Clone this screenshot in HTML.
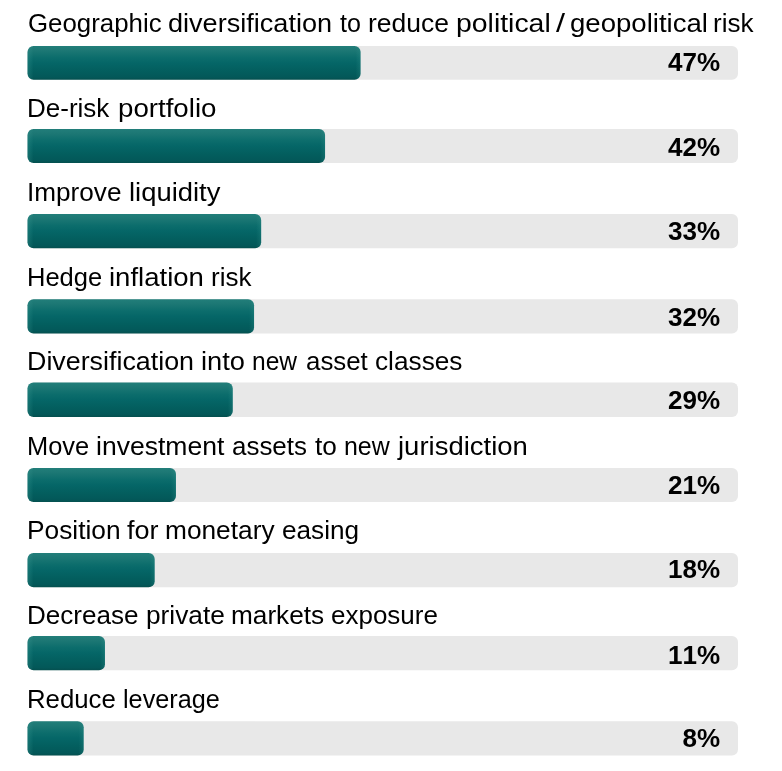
<!DOCTYPE html>
<html><head><meta charset="utf-8"><title>Chart</title>
<style>
html,body{margin:0;padding:0;background:#fff;}
body{width:782px;height:771px;position:relative;overflow:hidden;font-family:"Liberation Sans",sans-serif;color:#000;}
.w{position:absolute;font-size:25.0px;line-height:28px;height:28px;white-space:nowrap;transform-origin:0 0;color:#000;}
#t{position:absolute;left:0;top:0;width:782px;height:771px;will-change:transform;}
.val{position:absolute;left:600px;width:120.2px;text-align:right;height:30px;line-height:30px;font-weight:bold;font-size:25.4px;white-space:nowrap;color:#000;font-kerning:none;transform:scaleX(1.025);transform-origin:100% 50%;}
</style></head><body>

<svg width="782" height="771" viewBox="0 0 782 771" style="position:absolute;left:0;top:0">
<defs><linearGradient id="g" x1="0" y1="0" x2="0" y2="1"><stop offset="0" stop-color="#227e7a"/><stop offset="0.14" stop-color="#1c7774"/><stop offset="0.34" stop-color="#0c6d6c"/><stop offset="0.5" stop-color="#056667"/><stop offset="0.74" stop-color="#035e5e"/><stop offset="0.92" stop-color="#035859"/><stop offset="1" stop-color="#05504f"/></linearGradient>
<linearGradient id="h0" x1="0" y1="0" x2="1" y2="0"><stop offset="0" stop-color="#3c9a94" stop-opacity="0.32"/><stop offset="0.0180" stop-color="#3c9a94" stop-opacity="0"/><stop offset="0.9850" stop-color="#3c9a94" stop-opacity="0"/><stop offset="1" stop-color="#3c9a94" stop-opacity="0.24"/></linearGradient>
<linearGradient id="h1" x1="0" y1="0" x2="1" y2="0"><stop offset="0" stop-color="#3c9a94" stop-opacity="0.32"/><stop offset="0.0202" stop-color="#3c9a94" stop-opacity="0"/><stop offset="0.9832" stop-color="#3c9a94" stop-opacity="0"/><stop offset="1" stop-color="#3c9a94" stop-opacity="0.24"/></linearGradient>
<linearGradient id="h2" x1="0" y1="0" x2="1" y2="0"><stop offset="0" stop-color="#3c9a94" stop-opacity="0.32"/><stop offset="0.0257" stop-color="#3c9a94" stop-opacity="0"/><stop offset="0.9786" stop-color="#3c9a94" stop-opacity="0"/><stop offset="1" stop-color="#3c9a94" stop-opacity="0.24"/></linearGradient>
<linearGradient id="h3" x1="0" y1="0" x2="1" y2="0"><stop offset="0" stop-color="#3c9a94" stop-opacity="0.32"/><stop offset="0.0265" stop-color="#3c9a94" stop-opacity="0"/><stop offset="0.9779" stop-color="#3c9a94" stop-opacity="0"/><stop offset="1" stop-color="#3c9a94" stop-opacity="0.24"/></linearGradient>
<linearGradient id="h4" x1="0" y1="0" x2="1" y2="0"><stop offset="0" stop-color="#3c9a94" stop-opacity="0.32"/><stop offset="0.0292" stop-color="#3c9a94" stop-opacity="0"/><stop offset="0.9756" stop-color="#3c9a94" stop-opacity="0"/><stop offset="1" stop-color="#3c9a94" stop-opacity="0.24"/></linearGradient>
<linearGradient id="h5" x1="0" y1="0" x2="1" y2="0"><stop offset="0" stop-color="#3c9a94" stop-opacity="0.32"/><stop offset="0.0404" stop-color="#3c9a94" stop-opacity="0"/><stop offset="0.9663" stop-color="#3c9a94" stop-opacity="0"/><stop offset="1" stop-color="#3c9a94" stop-opacity="0.24"/></linearGradient>
<linearGradient id="h6" x1="0" y1="0" x2="1" y2="0"><stop offset="0" stop-color="#3c9a94" stop-opacity="0.32"/><stop offset="0.0472" stop-color="#3c9a94" stop-opacity="0"/><stop offset="0.9607" stop-color="#3c9a94" stop-opacity="0"/><stop offset="1" stop-color="#3c9a94" stop-opacity="0.24"/></linearGradient>
<linearGradient id="h7" x1="0" y1="0" x2="1" y2="0"><stop offset="0" stop-color="#3c9a94" stop-opacity="0.32"/><stop offset="0.0775" stop-color="#3c9a94" stop-opacity="0"/><stop offset="0.9354" stop-color="#3c9a94" stop-opacity="0"/><stop offset="1" stop-color="#3c9a94" stop-opacity="0.24"/></linearGradient>
<linearGradient id="h8" x1="0" y1="0" x2="1" y2="0"><stop offset="0" stop-color="#3c9a94" stop-opacity="0.32"/><stop offset="0.1070" stop-color="#3c9a94" stop-opacity="0"/><stop offset="0.9109" stop-color="#3c9a94" stop-opacity="0"/><stop offset="1" stop-color="#3c9a94" stop-opacity="0.24"/></linearGradient>
</defs>
<rect x="27.55" y="45.95" width="710.45" height="33.85" rx="6" fill="#e8e8e8"/>
<rect x="27.55" y="45.95" width="333.00" height="33.85" rx="6" fill="url(#g)"/>
<rect x="27.55" y="45.95" width="333.00" height="33.85" rx="6" fill="url(#h0)"/>
<rect x="27.55" y="129.0" width="710.45" height="33.90" rx="6" fill="#e8e8e8"/>
<rect x="27.55" y="129.0" width="297.50" height="33.90" rx="6" fill="url(#g)"/>
<rect x="27.55" y="129.0" width="297.50" height="33.90" rx="6" fill="url(#h1)"/>
<rect x="27.55" y="214.0" width="710.45" height="34.20" rx="6" fill="#e8e8e8"/>
<rect x="27.55" y="214.0" width="233.60" height="34.20" rx="6" fill="url(#g)"/>
<rect x="27.55" y="214.0" width="233.60" height="34.20" rx="6" fill="url(#h2)"/>
<rect x="27.55" y="299.2" width="710.45" height="34.40" rx="6" fill="#e8e8e8"/>
<rect x="27.55" y="299.2" width="226.50" height="34.40" rx="6" fill="url(#g)"/>
<rect x="27.55" y="299.2" width="226.50" height="34.40" rx="6" fill="url(#h3)"/>
<rect x="27.55" y="382.6" width="710.45" height="34.30" rx="6" fill="#e8e8e8"/>
<rect x="27.55" y="382.6" width="205.20" height="34.30" rx="6" fill="url(#g)"/>
<rect x="27.55" y="382.6" width="205.20" height="34.30" rx="6" fill="url(#h4)"/>
<rect x="27.55" y="468.0" width="710.45" height="34.00" rx="6" fill="#e8e8e8"/>
<rect x="27.55" y="468.0" width="148.40" height="34.00" rx="6" fill="url(#g)"/>
<rect x="27.55" y="468.0" width="148.40" height="34.00" rx="6" fill="url(#h5)"/>
<rect x="27.55" y="553.0" width="710.45" height="34.20" rx="6" fill="#e8e8e8"/>
<rect x="27.55" y="553.0" width="127.10" height="34.20" rx="6" fill="url(#g)"/>
<rect x="27.55" y="553.0" width="127.10" height="34.20" rx="6" fill="url(#h6)"/>
<rect x="27.55" y="636.0" width="710.45" height="34.20" rx="6" fill="#e8e8e8"/>
<rect x="27.55" y="636.0" width="77.40" height="34.20" rx="6" fill="url(#g)"/>
<rect x="27.55" y="636.0" width="77.40" height="34.20" rx="6" fill="url(#h7)"/>
<rect x="27.55" y="721.3" width="710.45" height="34.30" rx="6" fill="#e8e8e8"/>
<rect x="27.55" y="721.3" width="56.10" height="34.30" rx="6" fill="url(#g)"/>
<rect x="27.55" y="721.3" width="56.10" height="34.30" rx="6" fill="url(#h8)"/>
</svg>
<div id="t">
<span class="w" style="left:27.97px;top:9.00px;transform:scaleX(1.0333)">Geographic</span>
<span class="w" style="left:167.92px;top:9.00px;transform:scaleX(1.0833)">diversification</span>
<span class="w" style="left:339.60px;top:9.00px;transform:scaleX(1.0027)">to</span>
<span class="w" style="left:367.84px;top:9.00px;transform:scaleX(1.0585)">reduce</span>
<span class="w" style="left:455.66px;top:9.00px;transform:scaleX(1.1359)">political</span>
<span class="w" style="left:556.20px;top:9.00px;transform:scaleX(1.3000)">/</span>
<span class="w" style="left:570.00px;top:9.00px;transform:scaleX(1.1026)">geopolitical</span>
<span class="w" style="left:712.86px;top:9.00px;transform:scaleX(1.0422)">risk</span>
<div class="val" id="v0" style="top:47.0px">47%</div>
<span class="w" style="left:26.92px;top:94.20px;transform:scaleX(1.0404)">De-risk</span>
<span class="w" style="left:117.59px;top:94.20px;transform:scaleX(1.1064)">portfolio</span>
<div class="val" id="v1" style="top:132.1px">42%</div>
<span class="w" style="left:27.21px;top:178.00px;transform:scaleX(1.0457)">Improve</span>
<span class="w" style="left:128.60px;top:178.00px;transform:scaleX(1.0956)">liquidity</span>
<div class="val" id="v2" style="top:216.2px">33%</div>
<span class="w" style="left:26.96px;top:263.00px;transform:scaleX(1.0203)">Hedge</span>
<span class="w" style="left:109.10px;top:263.00px;transform:scaleX(1.1013)">inflation</span>
<span class="w" style="left:210.86px;top:263.00px;transform:scaleX(1.0396)">risk</span>
<div class="val" id="v3" style="top:301.6px">32%</div>
<span class="w" style="left:26.85px;top:347.00px;transform:scaleX(1.0734)">Diversification</span>
<span class="w" style="left:201.41px;top:347.00px;transform:scaleX(1.0884)">into</span>
<span class="w" style="left:252.02px;top:347.00px;transform:scaleX(0.9824)">new</span>
<span class="w" style="left:306.27px;top:347.00px;transform:scaleX(1.0339)">asset</span>
<span class="w" style="left:375.35px;top:347.00px;transform:scaleX(1.0493)">classes</span>
<div class="val" id="v4" style="top:384.9px">29%</div>
<span class="w" style="left:26.97px;top:432.00px;transform:scaleX(1.0167)">Move</span>
<span class="w" style="left:96.44px;top:432.00px;transform:scaleX(1.0614)">investment</span>
<span class="w" style="left:231.66px;top:432.00px;transform:scaleX(1.0374)">assets</span>
<span class="w" style="left:314.60px;top:432.00px;transform:scaleX(1.0478)">to</span>
<span class="w" style="left:343.50px;top:432.00px;transform:scaleX(0.9977)">new</span>
<span class="w" style="left:398.10px;top:432.00px;transform:scaleX(1.0990)">jurisdiction</span>
<div class="val" id="v5" style="top:469.9px">21%</div>
<span class="w" style="left:26.90px;top:516.30px;transform:scaleX(1.0519)">Position</span>
<span class="w" style="left:127.20px;top:516.30px;transform:scaleX(1.0815)">for</span>
<span class="w" style="left:165.35px;top:516.30px;transform:scaleX(1.0510)">monetary</span>
<span class="w" style="left:282.05px;top:516.30px;transform:scaleX(1.0465)">easing</span>
<div class="val" id="v6" style="top:554.2px">18%</div>
<span class="w" style="left:27.02px;top:601.20px;transform:scaleX(1.0424)">Decrease</span>
<span class="w" style="left:145.55px;top:601.20px;transform:scaleX(1.0501)">private</span>
<span class="w" style="left:231.15px;top:601.20px;transform:scaleX(1.0480)">markets</span>
<span class="w" style="left:331.36px;top:601.20px;transform:scaleX(1.0392)">exposure</span>
<div class="val" id="v7" style="top:639.5px">11%</div>
<span class="w" style="left:27.34px;top:685.00px;transform:scaleX(1.0304)">Reduce</span>
<span class="w" style="left:123.39px;top:685.00px;transform:scaleX(1.0086)">leverage</span>
<div class="val" id="v8" style="top:723.2px">8%</div>
</div>
</body></html>
